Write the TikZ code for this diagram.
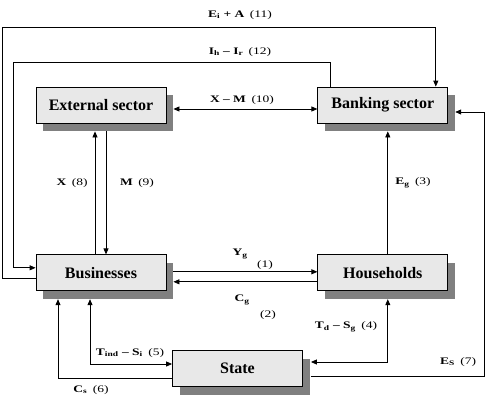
\documentclass[tikz,border=0pt]{standalone}
\usepackage{fontspec}
\setmainfont{Liberation Serif}
\newfontfamily\lblfont[FakeStretch=1.35]{Liberation Serif}
\usetikzlibrary{arrows.meta,positioning,calc,shadows}
\definecolor{boxgray}{RGB}{232,232,232}
\definecolor{shadegray}{RGB}{128,128,128}
\newcommand{\lsub}[1]{\textsubscript{#1}}
\newcommand{\nr}[1]{\hspace{0.55em}\mdseries #1}
\newcommand{\mn}{\ \textendash\ }

\begin{document}
\begin{tikzpicture}[x=1pt, y=-1pt, >={Triangle[length=6pt,width=5pt]},
    sector/.style={draw, line width=0.8pt, fill=boxgray, minimum width=130pt,
      minimum height=36pt, inner sep=0pt, font=\fontsize{16}{18}\selectfont\bfseries,
      drop shadow={shadow xshift=7pt, shadow yshift=-8pt, fill=shadegray, opacity=1}},
    flow/.style={->, line width=0.8pt},
    flowtwo/.style={<->, line width=0.8pt},
    lbl/.style={inner sep=0pt, font=\lblfont\fontsize{10}{11}\selectfont\bfseries}]
  \useasboundingbox (0,0) rectangle (495,404);
  % sectors
  \node[sector] (ext) at (101,105) {External sector};
  \node[sector, right=151pt of ext] (bank) {Banking sector};
  \node[sector, below=131pt of ext] (bus) {Businesses};
  \node[sector, below=131pt of bank] (hh) {Households};
  \node[sector] (state) at (237.5,368.5) {State};
  \coordinate (topA) at (2,27);
  \coordinate (topB) at (13,62);
  \coordinate (rgt) at (484,112);
  % flows
  \draw[flow] ($(bus.west)+(0,6)$) -| (topA) -| ($(bank.north)+(53,0)$);
  \draw[flow] ($(bank.north)+(-52,0)$) |- (topB) |- ($(bus.west)+(0,-5)$);
  \draw[flowtwo] ($(ext.east)+(7,4)$) -- ($(bank.west)+(0,4)$);
  \draw[flow] ($(bus.north)+(-6,0)$) -- ($(ext.south)+(-6,8)$);
  \draw[flow] ($(ext.south)+(5,8)$) -- ($(bus.north)+(5,0)$);
  \draw[flow] ($(hh.north)+(5,0)$) -- ($(bank.south)+(5,8)$);
  \draw[flow] ($(bus.east)+(7,-1)$) -- ($(hh.west)+(0,-1)$);
  \draw[flow] ($(hh.west)+(0,9)$) -- ($(bus.east)+(7,9)$);
  \draw[flowtwo] ($(hh.south)+(5,8)$) |- ($(state.east)+(8,-6.5)$);
  \draw[flowtwo] ($(bus.south)+(-11,8)$) |- ($(state.west)+(0,-4.5)$);
  \draw[flow] ($(state.west)+(0,9.5)$) -| ($(bus.south)+(-43,8)$);
  \draw[flow] ($(state.east)+(8,7.5)$) -| (rgt) -- ($(bank.east)+(7,7)$);
  % labels
  \node[lbl] (l11) at (240,15) {E\lsub{i} + A\nr{(11)}};
  \node[lbl] (l12) at (240,52) {I\lsub{h}\mn I\lsub{r}\nr{(12)}};
  \node[lbl] (l10) at (242,100) {X\mn M\nr{(10)}};
  \node[lbl] (l8) at (72,183) {X\nr{(8)}};
  \node[lbl] (l9) at (137,183) {M\nr{(9)}};
  \node[lbl] (l3) at (413,183) {E\lsub{g}\nr{(3)}};
  \node[lbl] (l1a) at (240,254) {Y\lsub{g}};
  \node[lbl] (l1b) at (265,265) {\mdseries(1)};
  \node[lbl] (l2a) at (242,300) {C\lsub{g}};
  \node[lbl] (l2b) at (268,315) {\mdseries(2)};
  \node[lbl] (l4) at (346,327) {T\lsub{d}\mn S\lsub{g}\nr{(4)}};
  \node[lbl] (l5) at (130,353) {T\lsub{ind}\mn S\lsub{i}\nr{(5)}};
  \node[lbl] (l6) at (91,390) {C\lsub{s}\nr{(6)}};
  \node[lbl] (l7) at (458,362) {E\lsub{S}\nr{(7)}};
\end{tikzpicture}
\end{document}
